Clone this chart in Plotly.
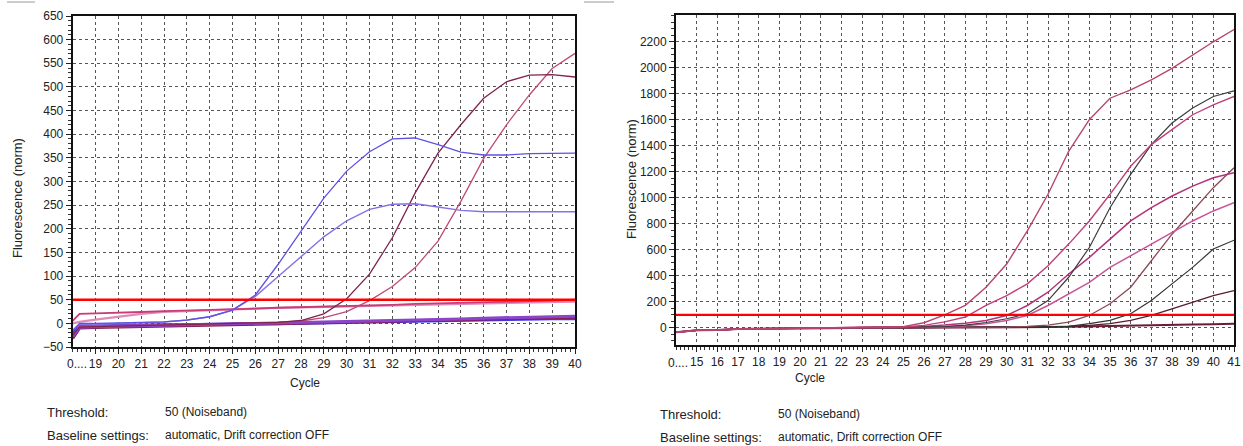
import plotly.graph_objects as go

W, H = 1243, 446

# ---------------- Left chart data ----------------
CYCLES_L = [18, 18.3] + list(range(19, 41))
THRESH_L = 50
L_BLUE_HIGH = [-15, 0, 0, 1, 2, 3, 7, 14, 28, 60, 125, 195, 265, 322, 363, 390, 392, 378, 362, 356, 356, 359, 360, 360]
L_BLUE_LOW = [-15, -2, -2, 0, 1, 3, 7, 14, 28, 57, 99, 141, 183, 217, 241, 252, 253, 246, 239, 236, 236, 236, 236, 236]
L_MAROON = [-25, -8, -7, -6, -5, -4, -3, -2, -1, 0, 2, 6, 20, 52, 104, 181, 276, 360, 420, 476, 511, 525, 526, 521]
L_ROSE = [-25, -6, -5, -5, -4, -3, -2, -1, 0, 1, 2, 5, 12, 25, 48, 78, 118, 174, 258, 349, 420, 483, 539, 571]
L_PINK_A = [5, 20, 21, 22, 24, 26, 27, 29, 30, 31, 33, 34, 36, 37, 38, 39, 41, 42, 43, 44, 45, 47, 48, 50]
L_PINK_B = [0, 3, 8, 14, 20, 24, 26, 28, 30, 32, 33, 34, 35, 36, 37, 38, 39, 40, 41, 42, 43, 44, 45, 46]
L_BASE_BLUE = [-20, -5, -5, -4, -4, -3, -3, -2, -2, -1, -1, 0, 0, 1, 2, 3, 4, 5, 6, 7, 8, 9, 10, 10]
L_BASE_PURPLE = [-28, -8, -7, -6, -6, -5, -4, -3, -2, -1, 0, 1, 2, 3, 4, 5, 7, 8, 9, 11, 12, 13, 14, 15]
L_BASE_MAROON = [-32, -10, -9, -8, -7, -6, -5, -4, -3, -2, -1, 0, 1, 2, 3, 4, 5, 7, 8, 9, 10, 11, 12, 13]

# ---------------- Right chart data ----------------
CYCLES_R = list(range(14, 42))
THRESH_R = 98
R_1 = [-35, -20, -18, -10, -8, -6, -3, -1, 0, 1, 3, 8, 38, 98, 172, 311, 490, 745, 1026, 1357, 1600, 1765, 1829, 1906, 1995, 2097, 2199, 2293]
R_2 = [-35, -20, -18, -10, -8, -6, -3, -1, 0, 1, 2, 6, 18, 45, 82, 171, 247, 337, 477, 643, 821, 1026, 1242, 1408, 1523, 1638, 1714, 1778]
R_3 = [-35, -20, -18, -10, -8, -6, -3, -1, 0, 0, 1, 2, 4, 8, 20, 40, 69, 107, 209, 388, 617, 923, 1179, 1408, 1574, 1689, 1778, 1821]
R_4 = [-35, -20, -18, -10, -8, -6, -3, -1, 0, 1, 2, 4, 10, 20, 35, 56, 94, 171, 273, 413, 541, 681, 821, 923, 1013, 1089, 1153, 1191]
R_5 = [-35, -20, -18, -10, -8, -6, -3, -1, 0, 0, 1, 3, 5, 8, 15, 31, 56, 94, 171, 260, 349, 464, 554, 643, 732, 821, 898, 962]
R_6 = [-35, -20, -18, -10, -8, -6, -3, -1, 0, 0, 0, 1, 1, 2, 3, 4, 5, 10, 20, 43, 94, 184, 311, 515, 719, 898, 1077, 1230]
R_7 = [-35, -20, -18, -10, -8, -6, -3, -1, 0, 0, 0, 0, 1, 1, 2, 3, 4, 4, 5, 10, 31, 56, 107, 209, 337, 464, 605, 673]
R_8 = [-35, -20, -18, -10, -8, -6, -3, -1, 0, 0, 0, 0, 1, 1, 2, 3, 4, 5, 7, 10, 18, 31, 56, 94, 145, 196, 247, 286]
R_9 = [-35, -20, -18, -10, -8, -6, -3, -1, 0, 0, 0, 0, 0, 0, 1, 1, 2, 3, 5, 7, 9, 12, 15, 18, 21, 24, 27, 30]

FONT = "Liberation Sans"

fig = go.Figure()

def add(x, y, color, width, xa, ya):
    fig.add_trace(go.Scatter(x=x, y=y, mode="lines", line=dict(color=color, width=width),
                             xaxis=xa, yaxis=ya, showlegend=False, hoverinfo="skip"))

# left curves
for ys, c, w in [(L_BASE_BLUE, "#3b3be6", 3), (L_BASE_MAROON, "#8b1a50", 3), (L_BASE_PURPLE, "#8a45c8", 3),
                 (L_PINK_B, "#e08ab8", 2.2), (L_PINK_A, "#c83c7a", 1.8),
                 (L_ROSE, "#c04a78", 1.3), (L_MAROON, "#7e2450", 1.3),
                 (L_BLUE_LOW, "#8670e6", 1.4), (L_BLUE_HIGH, "#5e52e4", 1.3)]:
    add(CYCLES_L, ys, c, w, "x", "y")
add([18, 40], [THRESH_L, THRESH_L], "#ff0000", 2.5, "x", "y")

# right curves
for ys, c, w in [(R_9, "#6a1a3a", 2), (R_8, "#5a1a2c", 1.3), (R_7, "#333333", 1.2), (R_6, "#8c4a55", 1.3),
                 (R_5, "#c8559a", 1.5), (R_4, "#b2337c", 1.5), (R_3, "#3c3c3c", 1.2),
                 (R_2, "#c0407a", 1.4), (R_1, "#b8456f", 1.4)]:
    add(CYCLES_R, ys, c, w, "x2", "y2")
add([14, 41], [THRESH_R, THRESH_R], "#ff0000", 2.2, "x2", "y2")

def px_x(p):
    return p / W

def px_y(p):
    return 1 - p / H

grid = dict(showgrid=True, gridcolor="#555555", griddash="3px,3px", gridwidth=1, automargin=False)
axline = dict(showline=True, linecolor="#111111", linewidth=2, mirror=True,
              ticks="outside", ticklen=5, tickcolor="#222222",
              tickfont=dict(family=FONT, size=12, color="#222222"), zeroline=False)

fig.update_layout(
    width=W, height=H, margin=dict(l=0, r=0, t=0, b=0, autoexpand=False),
    paper_bgcolor="white", plot_bgcolor="white",
    xaxis=dict(domain=[px_x(72.7), px_x(575)], range=[18, 40],
               tickmode="array", tickvals=list(range(19, 41)), ticktext=[str(v) for v in range(19, 41)],
               minor=dict(dtick=0.2, ticklen=3, tickcolor="#333333", showgrid=False, ticks="outside"),
               anchor="y", **grid, **axline),
    yaxis=dict(domain=[px_y(347), px_y(16)], range=[-50, 650], dtick=50,
               minor=dict(dtick=10, ticklen=3, tickcolor="#333333", showgrid=False, ticks="outside"),
               anchor="x", **grid, **axline),
    xaxis2=dict(domain=[px_x(676), px_x(1234)], range=[14, 41],
                tickmode="array", tickvals=list(range(15, 42)), ticktext=[str(v) for v in range(15, 42)],
                minor=dict(dtick=0.2, ticklen=3, tickcolor="#333333", showgrid=False, ticks="outside"),
                anchor="y2", **grid, **axline),
    yaxis2=dict(domain=[px_y(345), px_y(15)], range=[-133, 2405], tickmode="array",
                tickvals=list(range(0, 2201, 200)),
                minor=dict(dtick=50, ticklen=3, tickcolor="#333333", showgrid=False, ticks="outside"),
                anchor="x2", **grid, **axline),
)

f12 = dict(family=FONT, size=12, color="#222222")
f13 = dict(family=FONT, size=13, color="#222222")
anns = [
    dict(x=19, xref="x", xshift=-7, y=px_y(364), yref="paper", text="0....", xanchor="right", yanchor="middle", font=f12),
    dict(x=15, xref="x2", xshift=-7, y=px_y(363), yref="paper", text="0....", xanchor="right", yanchor="middle", font=f12),
    dict(x=px_x(305), y=px_y(383), text="Cycle", xanchor="center", yanchor="middle", font=f12),
    dict(x=px_x(810), y=px_y(378), text="Cycle", xanchor="center", yanchor="middle", font=f12),
    dict(x=px_x(18), y=px_y(198), text="Fluorescence (norm)", textangle=-90, xanchor="center", yanchor="middle", font=f13),
    dict(x=px_x(632), y=px_y(179), text="Fluorescence (norm)", textangle=-90, xanchor="center", yanchor="middle", font=f13),
    dict(x=px_x(45), y=px_y(412), text="Threshold:", xanchor="left", yanchor="middle", font=f13),
    dict(x=px_x(163), y=px_y(412), text="50 (Noiseband)", xanchor="left", yanchor="middle", font=f12),
    dict(x=px_x(45), y=px_y(435), text="Baseline settings:", xanchor="left", yanchor="middle", font=f13),
    dict(x=px_x(163), y=px_y(435), text="automatic, Drift correction OFF", xanchor="left", yanchor="middle", font=f12),
    dict(x=px_x(658), y=px_y(414), text="Threshold:", xanchor="left", yanchor="middle", font=f13),
    dict(x=px_x(776), y=px_y(414), text="50 (Noiseband)", xanchor="left", yanchor="middle", font=f12),
    dict(x=px_x(658), y=px_y(437), text="Baseline settings:", xanchor="left", yanchor="middle", font=f13),
    dict(x=px_x(776), y=px_y(437), text="automatic, Drift correction OFF", xanchor="left", yanchor="middle", font=f12),
]
for a in anns:
    a.setdefault("xref", "paper")
    a.setdefault("yref", "paper")
    fig.add_annotation(showarrow=False, **a)

for x0, x1 in [(7, 35), (584, 614)]:
    fig.add_shape(type="line", xref="paper", yref="paper", x0=px_x(x0), x1=px_x(x1),
                  y0=px_y(2), y1=px_y(2), line=dict(color="#cccccc", width=2))

fig.write_html("out.html", config={"displayModeBar": False},
               post_script="document.body.style.margin='0';document.body.style.overflow='hidden';")
